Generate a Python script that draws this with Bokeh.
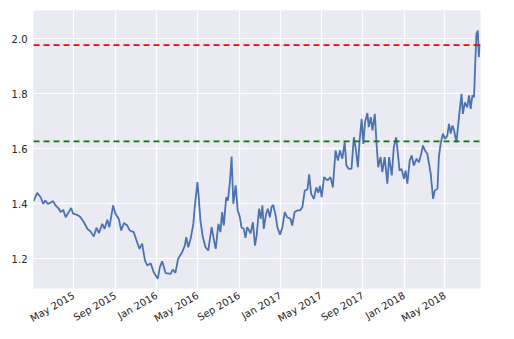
import numpy as np
from bokeh.plotting import figure
from bokeh.models import FixedTicker, PrintfTickFormatter, DatetimeTickFormatter, Span, Range1d
from bokeh.embed import file_html
from bokeh.resources import INLINE

# --- data ---
start_date = "2015-01-02"
day_offsets = [
    0, 11, 21, 29, 35, 42, 50, 58, 65, 75, 80, 88, 95, 101, 111, 117, 129, 139, 149, 159,
    168, 178, 186, 193, 203, 210, 218, 224, 230, 235, 242, 252, 259, 267, 277, 284,
    296, 306, 313, 321, 329, 336, 346, 355, 367, 373, 380, 390, 405, 411, 419, 427,
    439, 447, 451, 457, 464, 472, 476, 481, 484, 488, 493, 500, 508, 516, 526, 533,
    538, 546, 552, 557, 562, 569, 574, 580, 585, 590, 597, 603, 609, 614, 621, 626,
    631, 641, 648, 654, 659, 666, 671, 676, 680, 687, 692, 698, 703, 708, 715, 720,
    728, 735, 742, 749, 759, 764, 771, 779, 787, 794, 801, 809, 814, 820, 828, 835,
    841, 846, 851, 858, 868, 877, 884, 892, 899, 905, 912, 919, 924, 931, 939, 946,
    951, 958, 963, 969, 974, 979, 986, 990, 996, 1001, 1008, 1013, 1018, 1025, 1030,
    1037, 1045, 1050, 1058, 1064, 1071, 1076, 1081, 1087, 1094, 1099, 1104, 1111,
    1117, 1123, 1131, 1138, 1145, 1150, 1156, 1163, 1168, 1173, 1180, 1185, 1193,
    1197, 1203, 1209, 1215, 1222, 1227, 1232, 1237, 1242, 1249, 1255, 1259, 1264,
    1268, 1274, 1281, 1286, 1291, 1296, 1301, 1304, 1308, 1312, 1315, 1318,
]
values = [
    1.410, 1.440, 1.424, 1.400, 1.412, 1.400, 1.404, 1.410, 1.394, 1.382, 1.370, 1.378,
    1.351, 1.364, 1.385, 1.364, 1.360, 1.351, 1.333, 1.309, 1.300, 1.281, 1.313, 1.293,
    1.327, 1.309, 1.342, 1.315, 1.357, 1.394, 1.364, 1.345, 1.303, 1.330, 1.321, 1.303,
    1.297, 1.260, 1.236, 1.255, 1.194, 1.176, 1.184, 1.151, 1.127, 1.169, 1.191, 1.148,
    1.145, 1.161, 1.149, 1.200, 1.224, 1.248, 1.279, 1.242, 1.273, 1.327, 1.388, 1.442,
    1.479, 1.424, 1.339, 1.279, 1.242, 1.230, 1.315, 1.267, 1.236, 1.327, 1.297, 1.370,
    1.321, 1.424, 1.412, 1.479, 1.572, 1.400, 1.467, 1.376, 1.354, 1.315, 1.309, 1.276,
    1.315, 1.293, 1.333, 1.248, 1.285, 1.382, 1.345, 1.394, 1.309, 1.364, 1.382, 1.351,
    1.388, 1.396, 1.357, 1.315, 1.288, 1.315, 1.370, 1.351, 1.345, 1.321, 1.370, 1.376,
    1.376, 1.388, 1.448, 1.452, 1.507, 1.436, 1.418, 1.460, 1.440, 1.465, 1.424, 1.497,
    1.485, 1.497, 1.460, 1.594, 1.557, 1.594, 1.564, 1.624, 1.539, 1.527, 1.527, 1.642,
    1.606, 1.533, 1.630, 1.709, 1.618, 1.697, 1.730, 1.679, 1.715, 1.667, 1.727, 1.618,
    1.533, 1.570, 1.515, 1.570, 1.473, 1.570, 1.503, 1.606, 1.642, 1.582, 1.521, 1.527,
    1.491, 1.521, 1.473, 1.558, 1.576, 1.539, 1.564, 1.551, 1.582, 1.612, 1.594, 1.582,
    1.545, 1.509, 1.418, 1.448, 1.455, 1.570, 1.624, 1.655, 1.636, 1.648, 1.691, 1.655,
    1.685, 1.667, 1.624, 1.697, 1.745, 1.800, 1.727, 1.769, 1.751, 1.794, 1.745, 1.794,
    1.788, 1.897, 2.018, 2.030, 1.933, 1.982,
]
upper_level = 1.977
lower_level = 1.627
y_ticks = [1.2, 1.4, 1.6, 1.8, 2.0]
x_tick_dates = ["2015-05-01", "2015-09-01", "2016-01-01", "2016-05-01", "2016-09-01",
                "2017-01-01", "2017-05-01", "2017-09-01", "2018-01-01", "2018-05-01"]
x_end_offset = 1320
y_min, y_max = 1.092, 2.103

dates = np.datetime64(start_date) + np.array(day_offsets).astype("timedelta64[D]")


def to_ms(d):
    return (np.datetime64(d, "ms") - np.datetime64("1970-01-01", "ms")).astype(np.int64).item()


x0 = to_ms(np.datetime64(start_date))
x1 = to_ms(np.datetime64(start_date) + np.timedelta64(x_end_offset, "D"))

p = figure(width=512, height=335, x_axis_type="datetime", output_backend="svg",
           toolbar_location=None, x_range=Range1d(x0, x1), y_range=Range1d(y_min, y_max),
           min_border_left=33, min_border_right=32, min_border_top=10, min_border_bottom=47)

p.background_fill_color = "#eaeaf2"
p.border_fill_color = "white"
p.outline_line_color = None

p.line(dates, values, line_color="#4c72b0", line_width=1.8)

p.add_layout(Span(location=upper_level, dimension="width", line_color="#ff0000",
                  line_width=1.6, line_dash="6 4"))
p.add_layout(Span(location=lower_level, dimension="width", line_color="#008000",
                  line_width=1.6, line_dash="6 4"))

y_ticker = FixedTicker(ticks=y_ticks)
x_ticker = FixedTicker(ticks=[to_ms(d) for d in x_tick_dates])
p.yaxis.ticker = y_ticker
p.ygrid.ticker = y_ticker
p.xaxis.ticker = x_ticker
p.xgrid.ticker = x_ticker

for g in (p.xgrid, p.ygrid):
    g.grid_line_color = "white"
    g.grid_line_width = 1.2

p.yaxis.formatter = PrintfTickFormatter(format="%.1f")
p.xaxis.formatter = DatetimeTickFormatter(days="%b %Y", months="%b %Y", years="%b %Y")
p.xaxis.major_label_orientation = np.pi / 6

for ax in (p.xaxis, p.yaxis):
    ax.axis_line_color = None
    ax.major_tick_line_color = None
    ax.minor_tick_line_color = None
    ax.major_tick_out = 0
    ax.major_tick_in = 0
    ax.major_label_text_font = "DejaVu Sans"
    ax.major_label_text_font_size = "10px"
    ax.major_label_text_color = "#262626"
    ax.major_label_standoff = 6

open("out.html", "w").write(file_html(p, INLINE))
